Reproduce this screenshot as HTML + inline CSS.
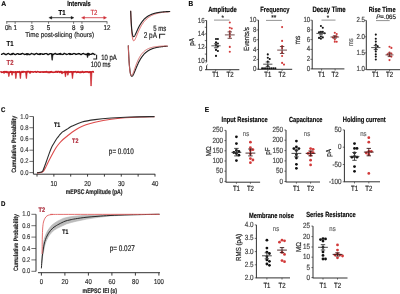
<!DOCTYPE html>
<html><head><meta charset="utf-8"><style>
html,body{margin:0;padding:0;background:#fff;width:400px;height:294px;overflow:hidden}
svg{display:block;filter:blur(0.5px)}
text{font-family:"Liberation Sans", sans-serif;text-rendering:geometricPrecision;}
</style></head><body>
<svg width="400" height="294" viewBox="0 0 400 294" font-family='"Liberation Sans", sans-serif'>
<rect width="400" height="294" fill="#fff"/>
<text font-size="6.8" font-weight="bold" transform="matrix(1.0 0 0 1.0 1.30 6.40)" stroke="#1a1a1a" stroke-width="0.14" >A</text>
<text font-size="5.71" font-weight="bold" transform="matrix(1.0 0 0 1.3 67.25 5.70)" stroke="#1a1a1a" stroke-width="0.14" >Intervals</text>
<text font-size="6.4" font-weight="bold" textLength="7.00" lengthAdjust="spacingAndGlyphs" transform="matrix(1.0 0 0 1.12 58.50 15.20)" stroke="#1a1a1a" stroke-width="0.14" >T1</text>
<text font-size="6.6" fill="#cf2f38" textLength="7.00" lengthAdjust="spacingAndGlyphs" transform="matrix(1.0 0 0 1.12 90.40 15.00)" stroke="#cf2f38" stroke-width="0.16" >T2</text>
<line x1="50.30" y1="17.70" x2="72.50" y2="17.70" stroke="#1a1a1a" stroke-width="0.8" />
<path d="M48.80,17.70 L51.80,16.20 L51.80,19.20 Z" stroke="#1a1a1a" stroke-width="0.3" fill="#1a1a1a" />
<path d="M74.00,17.70 L71.00,16.20 L71.00,19.20 Z" stroke="#1a1a1a" stroke-width="0.3" fill="#1a1a1a" />
<line x1="83.00" y1="17.70" x2="105.20" y2="17.70" stroke="#cf2f38" stroke-width="0.8" />
<path d="M81.50,17.70 L84.50,16.20 L84.50,19.20 Z" stroke="#cf2f38" stroke-width="0.3" fill="#cf2f38" />
<path d="M106.70,17.70 L103.70,16.20 L103.70,19.20 Z" stroke="#cf2f38" stroke-width="0.3" fill="#cf2f38" />
<line x1="6.20" y1="21.70" x2="107.30" y2="21.70" stroke="#444" stroke-width="0.85" />
<line x1="6.80" y1="21.70" x2="6.80" y2="23.80" stroke="#444" stroke-width="0.75" />
<line x1="15.15" y1="21.70" x2="15.15" y2="23.80" stroke="#444" stroke-width="0.75" />
<line x1="31.85" y1="21.70" x2="31.85" y2="23.80" stroke="#444" stroke-width="0.75" />
<line x1="48.55" y1="21.70" x2="48.55" y2="23.80" stroke="#444" stroke-width="0.75" />
<line x1="73.60" y1="21.70" x2="73.60" y2="23.80" stroke="#444" stroke-width="0.75" />
<line x1="81.95" y1="21.70" x2="81.95" y2="23.80" stroke="#444" stroke-width="0.75" />
<line x1="107.00" y1="21.70" x2="107.00" y2="23.80" stroke="#444" stroke-width="0.75" />
<text font-size="6.2" text-anchor="middle" fill="#222" transform="matrix(1.0 0 0 1.15 15.15 30.40)" stroke="#222" stroke-width="0.16" >1</text>
<text font-size="6.2" text-anchor="middle" fill="#222" transform="matrix(1.0 0 0 1.15 31.85 30.40)" stroke="#222" stroke-width="0.16" >3</text>
<text font-size="6.2" text-anchor="middle" fill="#222" transform="matrix(1.0 0 0 1.15 48.55 30.40)" stroke="#222" stroke-width="0.16" >5</text>
<text font-size="6.2" text-anchor="middle" fill="#222" transform="matrix(1.0 0 0 1.15 73.60 30.40)" stroke="#222" stroke-width="0.16" >8</text>
<text font-size="6.2" text-anchor="middle" fill="#222" transform="matrix(1.0 0 0 1.15 81.95 30.40)" stroke="#222" stroke-width="0.16" >9</text>
<text font-size="6.2" text-anchor="middle" fill="#222" transform="matrix(1.0 0 0 1.15 107.00 30.40)" stroke="#222" stroke-width="0.16" >12</text>
<text font-size="6.2" fill="#222" transform="matrix(1.0 0 0 1.15 4.90 30.40)" stroke="#222" stroke-width="0.16" >0h</text>
<text font-size="6.32" fill="#222" transform="matrix(1.0 0 0 1.12 25.25 36.90)" stroke="#222" stroke-width="0.16" >Time post-slicing (hours)</text>
<text font-size="6.5" font-weight="bold" textLength="7.00" lengthAdjust="spacingAndGlyphs" transform="matrix(1.0 0 0 1.12 6.50 46.40)" stroke="#1a1a1a" stroke-width="0.14" >T1</text>
<text font-size="6.5" font-weight="bold" fill="#b8303c" textLength="7.00" lengthAdjust="spacingAndGlyphs" transform="matrix(1.0 0 0 1.12 6.50 64.80)" stroke="#b8303c" stroke-width="0.14" >T2</text>
<path d="M1.00,54.31 L1.50,54.43 L2.00,54.14 L2.50,53.96 L3.00,53.72 L3.50,53.33 L4.00,53.39 L4.50,54.05 L5.00,54.06 L5.50,54.26 L6.00,54.69 L6.50,54.29 L7.00,54.20 L7.50,53.73 L8.00,53.64 L8.50,53.41 L9.00,53.84 L9.50,54.24 L10.00,54.34 L10.50,54.57 L11.00,54.47 L11.50,53.93 L12.00,53.98 L12.50,53.67 L13.00,53.45 L13.50,53.44 L14.00,54.12 L14.50,54.22 L15.00,54.53 L15.50,54.62 L16.00,54.36 L16.50,54.18 L17.00,53.65 L17.50,53.71 L18.00,53.58 L18.50,54.04 L19.00,54.31 L19.50,54.16 L20.00,54.27 L20.50,54.20 L21.00,54.32 L21.50,53.77 L22.00,53.66 L22.50,53.46 L23.00,53.72 L23.50,53.94 L24.00,54.20 L24.50,54.48 L25.00,54.45 L25.50,54.41 L26.00,54.00 L26.50,53.87 L27.00,53.73 L27.50,53.88 L28.00,53.97 L28.50,54.01 L29.00,54.57 L29.50,54.68 L30.00,54.50 L30.50,54.06 L31.00,53.85 L31.50,53.43 L32.00,53.75 L32.50,53.81 L33.00,53.95 L33.50,54.11 L34.00,54.62 L34.50,54.62 L35.00,53.94 L35.50,54.00 L36.00,53.58 L36.50,53.38 L37.00,53.57 L37.50,54.07 L38.00,54.42 L38.50,54.19 L39.00,54.49 L39.50,54.03 L40.00,54.08 L40.50,53.61 L41.00,53.75 L41.50,53.85 L42.00,53.83 L42.50,54.37 L43.00,54.27 L43.50,54.24 L44.00,54.39 L44.50,53.86 L45.00,53.65 L45.50,53.55 L46.00,53.62 L46.50,53.55 L47.00,53.77 L47.50,54.46 L48.00,54.34 L48.50,54.64 L49.00,54.40 L49.50,53.85 L50.00,53.64 L50.50,53.56 L51.00,53.71 L51.50,53.93 L52.00,54.21 L52.50,54.45 L53.00,54.66 L53.50,54.31 L54.00,54.00 L54.50,53.86 L55.00,53.44 L55.50,53.48 L56.00,54.01 L56.50,54.07 L57.00,54.35 L57.50,54.20 L58.00,54.34 L58.50,54.19 L59.00,53.61 L59.50,53.68 L60.00,53.62 L60.50,53.46 L61.00,54.00 L61.50,54.21 L62.00,54.51 L62.50,54.36 L63.00,54.36 L63.50,54.09 L64.00,53.46 L64.50,53.34 L65.00,53.69 L65.50,54.06 L66.00,53.99 L66.50,54.34 L67.00,54.50 L67.50,54.25 L68.00,54.02 L68.50,53.70 L69.00,53.53 L69.50,53.61 L70.00,53.62 L70.50,53.94 L71.00,54.42 L71.50,54.20 L72.00,54.44 L72.50,54.32 L73.00,53.82 L73.50,53.52 L74.00,53.70 L74.50,53.51 L75.00,53.72 L75.50,54.14 L76.00,54.49 L76.50,54.24 L77.00,54.21 L77.50,53.95 L78.00,53.91 L78.50,53.54 L79.00,53.76 L79.50,53.61 L80.00,53.98 L80.50,54.40 L81.00,54.64 L81.50,54.35 L82.00,54.01 L82.50,53.66 L83.00,53.64 L83.50,53.40 L84.00,53.83 L84.50,54.11 L85.00,54.07 L85.50,54.31 L86.00,54.58 L86.50,54.33 L87.00,54.12 L87.50,53.62 L88.00,53.37 L88.50,53.50 L89.00,53.97 L89.50,54.00 L90.00,54.29 L90.50,54.41 L91.00,54.30 L91.50,54.04 L92.00,54.01 L92.50,53.42 L93.00,53.31 L93.50,53.94 L94.00,54.19 L94.50,54.52 L95.00,54.40 L95.50,54.63" stroke="#111" stroke-width="1.35" fill="none" stroke-linejoin="round"/>
<path d="M51.30,54.00 L51.95,60.20 L52.35,60.20 L53.10,54.00 Z" stroke="#111" stroke-width="0.6" fill="#111" stroke-linejoin="round"/>
<path d="M86.70,54.00 L87.35,57.50 L87.75,57.50 L88.50,54.00 Z" stroke="#111" stroke-width="0.6" fill="#111" stroke-linejoin="round"/>
<path d="M26.20,54.00 L26.85,55.20 L27.25,55.20 L28.00,54.00 Z" stroke="#111" stroke-width="0.6" fill="#111" stroke-linejoin="round"/>
<path d="M39.20,54.00 L39.85,55.00 L40.25,55.00 L41.00,54.00 Z" stroke="#111" stroke-width="0.6" fill="#111" stroke-linejoin="round"/>
<path d="M69.20,54.00 L69.85,55.00 L70.25,55.00 L71.00,54.00 Z" stroke="#111" stroke-width="0.6" fill="#111" stroke-linejoin="round"/>
<path d="M88.20,54.00 L88.85,55.50 L89.25,55.50 L90.00,54.00 Z" stroke="#111" stroke-width="0.6" fill="#111" stroke-linejoin="round"/>
<path d="M11.20,54.00 L11.85,54.80 L12.25,54.80 L13.00,54.00 Z" stroke="#111" stroke-width="0.6" fill="#111" stroke-linejoin="round"/>
<path d="M59.20,54.00 L59.85,54.80 L60.25,54.80 L61.00,54.00 Z" stroke="#111" stroke-width="0.6" fill="#111" stroke-linejoin="round"/>
<path d="M0.50,72.43 L1.00,71.72 L1.50,72.25 L2.00,72.34 L2.50,72.16 L3.00,72.02 L3.50,71.79 L4.00,71.84 L4.50,71.73 L5.00,71.57 L5.50,72.09 L6.00,71.79 L6.50,72.31 L7.00,71.55 L7.50,72.40 L8.00,72.19 L8.50,72.42 L9.00,72.40 L9.50,72.40 L10.00,72.08 L10.50,71.51 L11.00,72.25 L11.50,71.67 L12.00,71.80 L12.50,72.16 L13.00,72.02 L13.50,71.91 L14.00,72.44 L14.50,72.11 L15.00,71.84 L15.50,71.75 L16.00,72.36 L16.50,71.98 L17.00,72.28 L17.50,71.85 L18.00,71.70 L18.50,72.03 L19.00,72.32 L19.50,71.67 L20.00,72.29 L20.50,72.42 L21.00,72.31 L21.50,72.32 L22.00,71.51 L22.50,72.13 L23.00,72.36 L23.50,71.55 L24.00,71.77 L24.50,71.77 L25.00,72.03 L25.50,71.92 L26.00,71.97 L26.50,72.28 L27.00,71.50 L27.50,71.55 L28.00,71.63 L28.50,71.62 L29.00,71.57 L29.50,72.47 L30.00,72.35 L30.50,71.59 L31.00,72.00 L31.50,71.82 L32.00,71.81 L32.50,71.85 L33.00,72.15 L33.50,72.09 L34.00,71.86 L34.50,71.69 L35.00,71.83 L35.50,71.62 L36.00,72.06 L36.50,72.22 L37.00,71.88 L37.50,71.58 L38.00,71.68 L38.50,71.87 L39.00,72.10 L39.50,72.28 L40.00,71.88 L40.50,72.30 L41.00,72.12 L41.50,71.93 L42.00,71.87 L42.50,72.00 L43.00,72.20 L43.50,71.92 L44.00,72.19 L44.50,71.96 L45.00,71.75 L45.50,72.04 L46.00,72.20 L46.50,71.57 L47.00,71.92 L47.50,71.93 L48.00,72.38 L48.50,72.44 L49.00,71.87 L49.50,72.40 L50.00,72.29 L50.50,71.76 L51.00,71.96 L51.50,71.62 L52.00,72.31 L52.50,72.16 L53.00,72.39 L53.50,72.29 L54.00,72.17 L54.50,72.23 L55.00,72.06 L55.50,71.60 L56.00,72.09 L56.50,71.50 L57.00,71.64 L57.50,72.27 L58.00,71.54 L58.50,71.59 L59.00,71.60 L59.50,72.38 L60.00,71.68 L60.50,71.52 L61.00,72.34 L61.50,71.62 L62.00,72.34 L62.50,72.17 L63.00,72.34 L63.50,72.45 L64.00,72.08 L64.50,72.30 L65.00,71.54 L65.50,72.27 L66.00,72.01 L66.50,72.22 L67.00,71.61 L67.50,72.25 L68.00,72.43 L68.50,71.56 L69.00,71.82 L69.50,72.06 L70.00,72.33 L70.50,71.74 L71.00,71.68 L71.50,71.75 L72.00,72.12 L72.50,72.25 L73.00,71.89 L73.50,71.87 L74.00,71.90 L74.50,71.85 L75.00,71.92 L75.50,71.58 L76.00,72.00 L76.50,72.47 L77.00,71.91 L77.50,72.25 L78.00,71.66 L78.50,72.19 L79.00,72.26 L79.50,72.17 L80.00,72.02 L80.50,71.98 L81.00,72.14 L81.50,72.40 L82.00,71.65 L82.50,71.60 L83.00,72.25 L83.50,72.42 L84.00,72.02 L84.50,71.94 L85.00,72.22 L85.50,71.69 L86.00,71.77 L86.50,71.70 L87.00,72.09 L87.50,71.81 L88.00,71.73 L88.50,72.19 L89.00,72.45 L89.50,71.80 L90.00,72.21 L90.50,71.91 L91.00,72.35 L91.50,72.08 L92.00,71.77 L92.50,71.72 L93.00,71.52 L93.50,71.98 L94.00,71.88" stroke="#cc2229" stroke-width="1.6" fill="none" stroke-linejoin="round"/>
<path d="M8.00,72.00 L8.65,76.50 L9.05,76.50 L9.80,72.00 Z" stroke="#cc2229" stroke-width="0.6" fill="#cc2229" stroke-linejoin="round"/>
<path d="M15.00,72.00 L15.65,78.50 L16.05,78.50 L16.80,72.00 Z" stroke="#cc2229" stroke-width="0.6" fill="#cc2229" stroke-linejoin="round"/>
<path d="M19.50,72.00 L20.15,78.50 L20.55,78.50 L21.30,72.00 Z" stroke="#cc2229" stroke-width="0.6" fill="#cc2229" stroke-linejoin="round"/>
<path d="M25.50,72.00 L26.15,78.50 L26.55,78.50 L27.30,72.00 Z" stroke="#cc2229" stroke-width="0.6" fill="#cc2229" stroke-linejoin="round"/>
<path d="M11.20,72.00 L11.85,75.20 L12.25,75.20 L13.00,72.00 Z" stroke="#cc2229" stroke-width="0.6" fill="#cc2229" stroke-linejoin="round"/>
<path d="M64.60,72.00 L65.25,76.80 L65.65,76.80 L66.40,72.00 Z" stroke="#cc2229" stroke-width="0.6" fill="#cc2229" stroke-linejoin="round"/>
<path d="M67.00,72.00 L67.65,75.20 L68.05,75.20 L68.80,72.00 Z" stroke="#cc2229" stroke-width="0.6" fill="#cc2229" stroke-linejoin="round"/>
<path d="M71.60,72.00 L72.25,78.50 L72.65,78.50 L73.40,72.00 Z" stroke="#cc2229" stroke-width="0.6" fill="#cc2229" stroke-linejoin="round"/>
<path d="M90.20,72.00 L90.85,86.00 L91.25,86.00 L92.00,72.00 Z" stroke="#cc2229" stroke-width="0.6" fill="#cc2229" stroke-linejoin="round"/>
<path d="M61.20,72.00 L61.85,74.00 L62.25,74.00 L63.00,72.00 Z" stroke="#cc2229" stroke-width="0.6" fill="#cc2229" stroke-linejoin="round"/>
<path d="M3.20,72.00 L3.85,73.50 L4.25,73.50 L5.00,72.00 Z" stroke="#cc2229" stroke-width="0.6" fill="#cc2229" stroke-linejoin="round"/>
<path d="M29.20,72.00 L29.85,73.50 L30.25,73.50 L31.00,72.00 Z" stroke="#cc2229" stroke-width="0.6" fill="#cc2229" stroke-linejoin="round"/>
<path d="M49.20,72.00 L49.85,73.00 L50.25,73.00 L51.00,72.00 Z" stroke="#cc2229" stroke-width="0.6" fill="#cc2229" stroke-linejoin="round"/>
<path d="M79.20,72.00 L79.85,73.20 L80.25,73.20 L81.00,72.00 Z" stroke="#cc2229" stroke-width="0.6" fill="#cc2229" stroke-linejoin="round"/>
<path d="M93.2,59.0 L96.6,59.0 L96.6,54.8" stroke="#222" stroke-width="1.1" fill="none" />
<text font-size="5.93" fill="#222" transform="matrix(1.0 0 0 1.3 101.25 59.60)" stroke="#222" stroke-width="0.16" >10 pA</text>
<text font-size="6.07" fill="#222" transform="matrix(1.0 0 0 1.3 90.65 67.40)" stroke="#222" stroke-width="0.16" >100 ms</text>
<path d="M130.70,11.20 L130.95,17.86 L131.20,23.27 L131.45,27.63 L131.70,31.12 L131.95,33.88 L132.20,36.03 L132.45,37.67 L132.70,38.88 L132.95,39.75 L133.20,40.32 L133.45,40.66 L133.70,40.79 L133.95,40.77 L134.20,40.61 L134.45,40.34 L134.70,39.99 L134.95,39.57 L135.20,39.09 L135.45,38.57 L135.70,38.02 L135.95,37.44 L136.20,36.85 L136.45,36.25 L136.70,35.64 L136.95,35.03 L137.20,34.42 L137.45,33.82 L137.70,33.22 L137.95,32.63 L138.20,32.04 L138.45,31.47 L138.70,30.91 L138.95,30.35 L139.20,29.82 L139.45,29.29 L139.70,28.77 L139.95,28.27 L140.20,27.78 L140.45,27.31 L140.70,26.84 L140.95,26.39 L141.20,25.95 L141.45,25.52 L141.70,25.11 L141.95,24.70 L142.20,24.31 L142.45,23.93 L142.70,23.56 L142.95,23.20 L143.20,22.84 L143.45,22.50 L143.70,22.17 L143.95,21.85 L144.20,21.54 L144.45,21.24 L144.70,20.95 L144.95,20.66 L145.20,20.38 L145.45,20.11 L145.70,19.85 L145.95,19.60 L146.20,19.35 L146.45,19.11 L146.70,18.88 L146.95,18.66 L147.20,18.44 L147.45,18.23 L147.70,18.02 L147.95,17.82 L148.20,17.63 L148.45,17.44 L148.70,17.25 L148.95,17.08 L149.20,16.91 L149.45,16.74 L149.70,16.58 L149.95,16.42 L150.20,16.26 L150.45,16.12 L150.70,15.97 L150.95,15.83 L151.20,15.70 L151.45,15.56 L151.70,15.44 L151.95,15.31 L152.20,15.19 L152.45,15.07 L152.70,14.96 L152.95,14.85 L153.20,14.74 L153.45,14.64 L153.70,14.54 L153.95,14.44 L154.20,14.35 L154.45,14.25 L154.70,14.16 L154.95,14.08 L155.20,13.99 L155.45,13.91 L155.70,13.83 L155.95,13.75 L156.20,13.68 L156.45,13.61 L156.70,13.54 L156.95,13.47 L157.20,13.40 L157.45,13.34 L157.70,13.27 L157.95,13.21 L158.20,13.15 L158.45,13.10 L158.70,13.04 L158.95,12.99 L159.20,12.93 L159.45,12.88 L159.70,12.83 L159.95,12.79 L160.20,12.74 L160.45,12.69 L160.70,12.65 L160.95,12.61 L161.20,12.57 L161.45,12.53 L161.70,12.49 L161.95,12.45 L162.20,12.41 L162.45,12.38 L162.70,12.34 L162.95,12.31 L163.20,12.28 L163.45,12.25 L163.70,12.22 L163.95,12.19 L164.20,12.16 L164.45,12.13 L164.70,12.10 L164.95,12.07 L165.20,12.05 L165.45,12.02 L165.70,12.00 L165.95,11.98 L166.20,11.95 L166.45,11.93 L166.70,11.91 L166.95,11.89 L167.20,11.87 L167.45,11.85 L167.70,11.83 L167.95,11.81 L168.20,11.79 L168.45,11.78 L168.70,11.76 L168.95,11.74 L169.20,11.73 L169.45,11.71 L169.70,11.70" stroke="#e05a5a" stroke-width="1.0" fill="none" stroke-linejoin="round" stroke-linecap="round"/>
<path d="M130.70,11.20 L130.95,17.17 L131.20,21.98 L131.45,25.82 L131.70,28.85 L131.95,31.22 L132.20,33.04 L132.45,34.39 L132.70,35.37 L132.95,36.04 L133.20,36.45 L133.45,36.66 L133.70,36.69 L133.95,36.59 L134.20,36.38 L134.45,36.07 L134.70,35.70 L134.95,35.27 L135.20,34.80 L135.45,34.29 L135.70,33.76 L135.95,33.22 L136.20,32.67 L136.45,32.11 L136.70,31.55 L136.95,30.99 L137.20,30.43 L137.45,29.88 L137.70,29.34 L137.95,28.81 L138.20,28.29 L138.45,27.78 L138.70,27.28 L138.95,26.79 L139.20,26.31 L139.45,25.85 L139.70,25.40 L139.95,24.96 L140.20,24.54 L140.45,24.12 L140.70,23.72 L140.95,23.33 L141.20,22.95 L141.45,22.58 L141.70,22.23 L141.95,21.88 L142.20,21.55 L142.45,21.22 L142.70,20.91 L142.95,20.60 L143.20,20.31 L143.45,20.02 L143.70,19.74 L143.95,19.47 L144.20,19.21 L144.45,18.96 L144.70,18.72 L144.95,18.48 L145.20,18.25 L145.45,18.03 L145.70,17.81 L145.95,17.60 L146.20,17.40 L146.45,17.21 L146.70,17.02 L146.95,16.83 L147.20,16.66 L147.45,16.48 L147.70,16.32 L147.95,16.16 L148.20,16.00 L148.45,15.85 L148.70,15.70 L148.95,15.56 L149.20,15.42 L149.45,15.29 L149.70,15.16 L149.95,15.04 L150.20,14.91 L150.45,14.80 L150.70,14.68 L150.95,14.57 L151.20,14.47 L151.45,14.36 L151.70,14.26 L151.95,14.17 L152.20,14.07 L152.45,13.98 L152.70,13.90 L152.95,13.81 L153.20,13.73 L153.45,13.65 L153.70,13.57 L153.95,13.50 L154.20,13.42 L154.45,13.35 L154.70,13.29 L154.95,13.22 L155.20,13.16 L155.45,13.09 L155.70,13.04 L155.95,12.98 L156.20,12.92 L156.45,12.87 L156.70,12.81 L156.95,12.76 L157.20,12.71 L157.45,12.67 L157.70,12.62 L157.95,12.58 L158.20,12.53 L158.45,12.49 L158.70,12.45 L158.95,12.41 L159.20,12.37 L159.45,12.33 L159.70,12.30 L159.95,12.26 L160.20,12.23 L160.45,12.20 L160.70,12.17 L160.95,12.14 L161.20,12.11 L161.45,12.08 L161.70,12.05 L161.95,12.02 L162.20,12.00 L162.45,11.97 L162.70,11.95 L162.95,11.92 L163.20,11.90 L163.45,11.88 L163.70,11.86 L163.95,11.84 L164.20,11.82 L164.45,11.80 L164.70,11.78 L164.95,11.76 L165.20,11.74 L165.45,11.73 L165.70,11.71 L165.95,11.69 L166.20,11.68 L166.45,11.66 L166.70,11.65 L166.95,11.63 L167.20,11.62 L167.45,11.61 L167.70,11.59 L167.95,11.58 L168.20,11.57 L168.45,11.56 L168.70,11.55 L168.95,11.54 L169.20,11.53 L169.45,11.51 L169.70,11.50" stroke="#222" stroke-width="1.15" fill="none" stroke-linejoin="round" stroke-linecap="round"/>
<path d="M128.30,45.80 L128.55,51.63 L128.80,56.56 L129.05,60.70 L129.30,64.16 L129.55,67.02 L129.80,69.37 L130.05,71.28 L130.30,72.79 L130.55,73.98 L130.80,74.87 L131.05,75.52 L131.30,75.95 L131.55,76.20 L131.80,76.30 L132.05,76.26 L132.30,76.11 L132.55,75.86 L132.80,75.54 L133.05,75.15 L133.30,74.70 L133.55,74.21 L133.80,73.68 L134.05,73.12 L134.30,72.54 L134.55,71.95 L134.80,71.34 L135.05,70.72 L135.30,70.10 L135.55,69.48 L135.80,68.87 L136.05,68.25 L136.30,67.64 L136.55,67.04 L136.80,66.44 L137.05,65.86 L137.30,65.29 L137.55,64.72 L137.80,64.17 L138.05,63.63 L138.30,63.10 L138.55,62.59 L138.80,62.08 L139.05,61.59 L139.30,61.11 L139.55,60.65 L139.80,60.20 L140.05,59.76 L140.30,59.33 L140.55,58.91 L140.80,58.51 L141.05,58.11 L141.30,57.73 L141.55,57.36 L141.80,57.00 L142.05,56.66 L142.30,56.32 L142.55,55.99 L142.80,55.67 L143.05,55.36 L143.30,55.06 L143.55,54.77 L143.80,54.49 L144.05,54.22 L144.30,53.96 L144.55,53.70 L144.80,53.45 L145.05,53.21 L145.30,52.98 L145.55,52.75 L145.80,52.53 L146.05,52.32 L146.30,52.12 L146.55,51.92 L146.80,51.73 L147.05,51.54 L147.30,51.36 L147.55,51.18 L147.80,51.01 L148.05,50.85 L148.30,50.69 L148.55,50.54 L148.80,50.39 L149.05,50.24 L149.30,50.10 L149.55,49.97 L149.80,49.84 L150.05,49.71 L150.30,49.58 L150.55,49.47 L150.80,49.35 L151.05,49.24 L151.30,49.13 L151.55,49.02 L151.80,48.92 L152.05,48.82 L152.30,48.73 L152.55,48.64 L152.80,48.55 L153.05,48.46 L153.30,48.38 L153.55,48.30 L153.80,48.22 L154.05,48.14 L154.30,48.07 L154.55,48.00 L154.80,47.93 L155.05,47.86 L155.30,47.79 L155.55,47.73 L155.80,47.67 L156.05,47.61 L156.30,47.55 L156.55,47.50 L156.80,47.45 L157.05,47.39 L157.30,47.34 L157.55,47.29 L157.80,47.25 L158.05,47.20 L158.30,47.16 L158.55,47.11 L158.80,47.07 L159.05,47.03 L159.30,46.99 L159.55,46.96 L159.80,46.92 L160.05,46.88 L160.30,46.85 L160.55,46.82 L160.80,46.79 L161.05,46.75 L161.30,46.72 L161.55,46.69 L161.80,46.67 L162.05,46.64 L162.30,46.61 L162.55,46.59 L162.80,46.56 L163.05,46.54 L163.30,46.51 L163.55,46.49 L163.80,46.47 L164.05,46.45 L164.30,46.43 L164.55,46.41 L164.80,46.39 L165.05,46.37 L165.30,46.35 L165.55,46.34 L165.80,46.32 L166.05,46.30 L166.30,46.29 L166.55,46.27 L166.80,46.26 L167.05,46.24 L167.30,46.23" stroke="#222" stroke-width="1.15" fill="none" stroke-linejoin="round" stroke-linecap="round"/>
<path d="M128.30,45.80 L128.55,52.05 L128.80,57.25 L129.05,61.54 L129.30,65.04 L129.55,67.88 L129.80,70.14 L130.05,71.91 L130.30,73.26 L130.55,74.25 L130.80,74.93 L131.05,75.36 L131.30,75.57 L131.55,75.59 L131.80,75.46 L132.05,75.20 L132.30,74.83 L132.55,74.38 L132.80,73.86 L133.05,73.28 L133.30,72.66 L133.55,72.00 L133.80,71.32 L134.05,70.62 L134.30,69.91 L134.55,69.20 L134.80,68.48 L135.05,67.77 L135.30,67.06 L135.55,66.36 L135.80,65.67 L136.05,65.00 L136.30,64.33 L136.55,63.69 L136.80,63.05 L137.05,62.44 L137.30,61.84 L137.55,61.26 L137.80,60.69 L138.05,60.14 L138.30,59.61 L138.55,59.10 L138.80,58.60 L139.05,58.12 L139.30,57.66 L139.55,57.21 L139.80,56.78 L140.05,56.36 L140.30,55.96 L140.55,55.58 L140.80,55.20 L141.05,54.84 L141.30,54.50 L141.55,54.16 L141.80,53.84 L142.05,53.53 L142.30,53.23 L142.55,52.95 L142.80,52.67 L143.05,52.41 L143.30,52.15 L143.55,51.90 L143.80,51.67 L144.05,51.44 L144.30,51.22 L144.55,51.01 L144.80,50.81 L145.05,50.62 L145.30,50.43 L145.55,50.25 L145.80,50.08 L146.05,49.91 L146.30,49.75 L146.55,49.60 L146.80,49.45 L147.05,49.31 L147.30,49.17 L147.55,49.04 L147.80,48.92 L148.05,48.79 L148.30,48.68 L148.55,48.57 L148.80,48.46 L149.05,48.36 L149.30,48.26 L149.55,48.16 L149.80,48.07 L150.05,47.98 L150.30,47.90 L150.55,47.81 L150.80,47.74 L151.05,47.66 L151.30,47.59 L151.55,47.52 L151.80,47.45 L152.05,47.39 L152.30,47.33 L152.55,47.27 L152.80,47.21 L153.05,47.15 L153.30,47.10 L153.55,47.05 L153.80,47.00 L154.05,46.96 L154.30,46.91 L154.55,46.87 L154.80,46.83 L155.05,46.79 L155.30,46.75 L155.55,46.71 L155.80,46.68 L156.05,46.64 L156.30,46.61 L156.55,46.58 L156.80,46.55 L157.05,46.52 L157.30,46.49 L157.55,46.46 L157.80,46.44 L158.05,46.41 L158.30,46.39 L158.55,46.37 L158.80,46.34 L159.05,46.32 L159.30,46.30 L159.55,46.28 L159.80,46.26 L160.05,46.25 L160.30,46.23 L160.55,46.21 L160.80,46.20 L161.05,46.18 L161.30,46.17 L161.55,46.15 L161.80,46.14 L162.05,46.12 L162.30,46.11 L162.55,46.10 L162.80,46.09 L163.05,46.08 L163.30,46.07 L163.55,46.06 L163.80,46.05 L164.05,46.04 L164.30,46.03 L164.55,46.02 L164.80,46.01 L165.05,46.00 L165.30,45.99 L165.55,45.99 L165.80,45.98 L166.05,45.97 L166.30,45.97 L166.55,45.96 L166.80,45.95 L167.05,45.95 L167.30,45.94" stroke="#d06060" stroke-width="0.95" fill="none" stroke-linejoin="round" stroke-linecap="round"/>
<text font-size="6.0" fill="#222" transform="matrix(1.0 0 0 1.3 153.25 31.30)" stroke="#222" stroke-width="0.16" >5 ms</text>
<text font-size="6.42" fill="#222" transform="matrix(1.0 0 0 1.3 143.75 38.20)" stroke="#222" stroke-width="0.16" >2 pA</text>
<path d="M165.2,34.2 L159.6,34.2 L159.6,38.6" stroke="#222" stroke-width="1.1" fill="none" />
<text font-size="6.5" font-weight="bold" transform="matrix(1.0 0 0 1.12 188.60 6.30)" stroke="#1a1a1a" stroke-width="0.14" >B</text>
<text font-size="5.85" font-weight="bold" transform="matrix(1.0 0 0 1.3 208.15 11.60)" stroke="#1a1a1a" stroke-width="0.14" >Amplitude</text>
<line x1="206.60" y1="20.40" x2="206.60" y2="61.80" stroke="#262626" stroke-width="0.95" />
<line x1="206.60" y1="65.80" x2="206.60" y2="69.70" stroke="#262626" stroke-width="0.95" />
<path d="M205.6,62.8 Q206.6,62.6 206.6,61.6" stroke="#333" stroke-width="0.7" fill="none" />
<path d="M206.6,65.9 Q206.6,64.9 207.6,64.6" stroke="#333" stroke-width="0.7" fill="none" />
<line x1="204.80" y1="20.50" x2="206.60" y2="20.50" stroke="#333" stroke-width="0.7" />
<text font-size="6.1" text-anchor="end" fill="#444" transform="matrix(1.0 0 0 1.2 204.60 22.55)" stroke="#444" stroke-width="0.16" >16</text>
<line x1="204.80" y1="27.30" x2="206.60" y2="27.30" stroke="#333" stroke-width="0.7" />
<line x1="204.80" y1="33.90" x2="206.60" y2="33.90" stroke="#333" stroke-width="0.7" />
<text font-size="6.1" text-anchor="end" fill="#444" transform="matrix(1.0 0 0 1.2 204.60 35.95)" stroke="#444" stroke-width="0.16" >14</text>
<line x1="204.80" y1="40.60" x2="206.60" y2="40.60" stroke="#333" stroke-width="0.7" />
<line x1="204.80" y1="47.30" x2="206.60" y2="47.30" stroke="#333" stroke-width="0.7" />
<text font-size="6.1" text-anchor="end" fill="#444" transform="matrix(1.0 0 0 1.2 204.60 49.35)" stroke="#444" stroke-width="0.16" >12</text>
<line x1="204.80" y1="54.10" x2="206.60" y2="54.10" stroke="#333" stroke-width="0.7" />
<line x1="204.80" y1="60.80" x2="206.60" y2="60.80" stroke="#333" stroke-width="0.7" />
<text font-size="6.1" text-anchor="end" fill="#444" transform="matrix(1.0 0 0 1.2 204.60 62.85)" stroke="#444" stroke-width="0.16" >10</text>
<text font-size="6.1" text-anchor="end" fill="#444" transform="matrix(1.0 0 0 1.2 202.50 71.40)" stroke="#444" stroke-width="0.16" >0</text>
<line x1="205.00" y1="69.70" x2="239.30" y2="69.70" stroke="#262626" stroke-width="0.95" />
<line x1="215.70" y1="69.70" x2="215.70" y2="71.30" stroke="#333" stroke-width="0.7" />
<line x1="230.00" y1="69.70" x2="230.00" y2="71.30" stroke="#333" stroke-width="0.7" />
<text font-size="6.0" text-anchor="middle" fill="#222" transform="matrix(1.0 0 0 1.25 215.70 76.80)" stroke="#222" stroke-width="0.16" >T1</text>
<text font-size="6.0" text-anchor="middle" fill="#222" transform="matrix(1.0 0 0 1.25 230.00 76.80)" stroke="#222" stroke-width="0.16" >T2</text>
<text font-size="6.2" text-anchor="middle" fill="#222" transform="matrix(0 -1.0 1.15 0 194.30 42.00)" stroke="#222" stroke-width="0.16" >pA</text>
<line x1="214.00" y1="20.10" x2="229.50" y2="20.10" stroke="#666" stroke-width="0.7" />
<text font-size="6.2" text-anchor="middle" fill="#222" transform="matrix(1.0 0 0 1.12 222.60 19.60)" stroke="#222" stroke-width="0.16" >*</text>
<circle cx="216.00" cy="39.00" r="1.05" fill="#111"/>
<circle cx="217.89" cy="39.00" r="1.05" fill="#111"/>
<circle cx="216.00" cy="42.40" r="1.05" fill="#111"/>
<circle cx="217.89" cy="43.50" r="1.05" fill="#111"/>
<circle cx="216.00" cy="45.00" r="1.05" fill="#111"/>
<circle cx="217.89" cy="46.50" r="1.05" fill="#111"/>
<circle cx="216.00" cy="49.90" r="1.05" fill="#111"/>
<circle cx="217.89" cy="51.00" r="1.05" fill="#111"/>
<circle cx="216.00" cy="55.90" r="1.05" fill="#111"/>
<line x1="211.40" y1="45.80" x2="220.60" y2="45.80" stroke="#333" stroke-width="0.85" />
<line x1="216.00" y1="43.80" x2="216.00" y2="47.80" stroke="#333" stroke-width="0.85" />
<line x1="213.93" y1="43.80" x2="218.07" y2="43.80" stroke="#333" stroke-width="0.85" />
<line x1="213.93" y1="47.80" x2="218.07" y2="47.80" stroke="#333" stroke-width="0.85" />
<circle cx="229.80" cy="22.50" r="1.05" fill="#d23a3a"/>
<circle cx="229.80" cy="27.80" r="1.05" fill="#d23a3a"/>
<circle cx="231.69" cy="28.50" r="1.05" fill="#d23a3a"/>
<circle cx="229.80" cy="31.20" r="1.05" fill="#d23a3a"/>
<circle cx="229.80" cy="33.50" r="1.05" fill="#d23a3a"/>
<circle cx="229.80" cy="36.50" r="1.05" fill="#d23a3a"/>
<circle cx="229.80" cy="46.90" r="1.05" fill="#d23a3a"/>
<circle cx="229.80" cy="51.80" r="1.05" fill="#d23a3a"/>
<line x1="224.90" y1="34.90" x2="234.70" y2="34.90" stroke="#5a2a2a" stroke-width="0.85" />
<line x1="229.80" y1="31.90" x2="229.80" y2="38.30" stroke="#5a2a2a" stroke-width="0.85" />
<line x1="227.59" y1="31.90" x2="232.01" y2="31.90" stroke="#5a2a2a" stroke-width="0.85" />
<line x1="227.59" y1="38.30" x2="232.01" y2="38.30" stroke="#5a2a2a" stroke-width="0.85" />
<text font-size="5.77" font-weight="bold" transform="matrix(1.0 0 0 1.3 260.35 11.60)" stroke="#1a1a1a" stroke-width="0.14" >Frequency</text>
<line x1="258.40" y1="20.10" x2="258.40" y2="69.20" stroke="#262626" stroke-width="0.95" />
<line x1="256.60" y1="20.10" x2="258.40" y2="20.10" stroke="#333" stroke-width="0.7" />
<text font-size="6.1" text-anchor="end" fill="#444" transform="matrix(1.0 0 0 1.2 256.40 22.15)" stroke="#444" stroke-width="0.16" >10</text>
<line x1="256.60" y1="29.90" x2="258.40" y2="29.90" stroke="#333" stroke-width="0.7" />
<text font-size="6.1" text-anchor="end" fill="#444" transform="matrix(1.0 0 0 1.2 256.40 31.95)" stroke="#444" stroke-width="0.16" >8</text>
<line x1="256.60" y1="39.70" x2="258.40" y2="39.70" stroke="#333" stroke-width="0.7" />
<text font-size="6.1" text-anchor="end" fill="#444" transform="matrix(1.0 0 0 1.2 256.40 41.75)" stroke="#444" stroke-width="0.16" >6</text>
<line x1="256.60" y1="49.50" x2="258.40" y2="49.50" stroke="#333" stroke-width="0.7" />
<text font-size="6.1" text-anchor="end" fill="#444" transform="matrix(1.0 0 0 1.2 256.40 51.55)" stroke="#444" stroke-width="0.16" >4</text>
<line x1="256.60" y1="59.40" x2="258.40" y2="59.40" stroke="#333" stroke-width="0.7" />
<text font-size="6.1" text-anchor="end" fill="#444" transform="matrix(1.0 0 0 1.2 256.40 61.45)" stroke="#444" stroke-width="0.16" >2</text>
<line x1="256.60" y1="69.20" x2="258.40" y2="69.20" stroke="#333" stroke-width="0.7" />
<text font-size="6.1" text-anchor="end" fill="#444" transform="matrix(1.0 0 0 1.2 256.40 71.25)" stroke="#444" stroke-width="0.16" >0</text>
<line x1="257.90" y1="69.30" x2="292.20" y2="69.30" stroke="#262626" stroke-width="0.95" />
<line x1="267.80" y1="69.30" x2="267.80" y2="70.90" stroke="#333" stroke-width="0.7" />
<line x1="282.10" y1="69.30" x2="282.10" y2="70.90" stroke="#333" stroke-width="0.7" />
<text font-size="6.0" text-anchor="middle" fill="#222" transform="matrix(1.0 0 0 1.25 267.80 76.80)" stroke="#222" stroke-width="0.16" >T1</text>
<text font-size="6.0" text-anchor="middle" fill="#222" transform="matrix(1.0 0 0 1.25 282.10 76.80)" stroke="#222" stroke-width="0.16" >T2</text>
<text font-size="6.3" text-anchor="middle" fill="#222" textLength="24.00" lengthAdjust="spacingAndGlyphs" transform="matrix(0 -1.0 1.18 0 248.80 39.00)" stroke="#222" stroke-width="0.16" >Events/s</text>
<line x1="266.00" y1="20.40" x2="282.00" y2="20.40" stroke="#666" stroke-width="0.7" />
<text font-size="6.5" text-anchor="middle" fill="#222" transform="matrix(1.0 0 0 1.12 273.70 20.00)" stroke="#222" stroke-width="0.16" >**</text>
<circle cx="267.80" cy="54.40" r="1.05" fill="#111"/>
<circle cx="267.80" cy="57.80" r="1.05" fill="#111"/>
<circle cx="269.69" cy="59.00" r="1.05" fill="#111"/>
<circle cx="267.80" cy="61.60" r="1.05" fill="#111"/>
<circle cx="267.80" cy="66.00" r="1.05" fill="#111"/>
<circle cx="267.80" cy="68.30" r="1.05" fill="#111"/>
<circle cx="269.69" cy="68.30" r="1.05" fill="#111"/>
<circle cx="265.91" cy="68.30" r="1.05" fill="#111"/>
<circle cx="271.58" cy="68.30" r="1.05" fill="#111"/>
<circle cx="264.02" cy="68.30" r="1.05" fill="#111"/>
<circle cx="273.47" cy="68.30" r="1.05" fill="#111"/>
<circle cx="262.13" cy="68.30" r="1.05" fill="#111"/>
<circle cx="275.36" cy="68.30" r="1.05" fill="#111"/>
<line x1="263.20" y1="64.20" x2="272.40" y2="64.20" stroke="#333" stroke-width="0.85" />
<line x1="267.80" y1="62.00" x2="267.80" y2="66.40" stroke="#333" stroke-width="0.85" />
<line x1="265.73" y1="62.00" x2="269.87" y2="62.00" stroke="#333" stroke-width="0.85" />
<line x1="265.73" y1="66.40" x2="269.87" y2="66.40" stroke="#333" stroke-width="0.85" />
<circle cx="282.10" cy="27.10" r="1.05" fill="#d23a3a"/>
<circle cx="282.10" cy="40.90" r="1.05" fill="#d23a3a"/>
<circle cx="282.10" cy="46.00" r="1.05" fill="#d23a3a"/>
<circle cx="282.10" cy="48.00" r="1.05" fill="#d23a3a"/>
<circle cx="282.10" cy="52.30" r="1.05" fill="#d23a3a"/>
<circle cx="282.10" cy="56.00" r="1.05" fill="#d23a3a"/>
<circle cx="282.10" cy="62.90" r="1.05" fill="#d23a3a"/>
<circle cx="283.99" cy="64.60" r="1.05" fill="#d23a3a"/>
<line x1="277.20" y1="50.10" x2="287.00" y2="50.10" stroke="#5a2a2a" stroke-width="0.85" />
<line x1="282.10" y1="46.50" x2="282.10" y2="53.50" stroke="#5a2a2a" stroke-width="0.85" />
<line x1="279.90" y1="46.50" x2="284.31" y2="46.50" stroke="#5a2a2a" stroke-width="0.85" />
<line x1="279.90" y1="53.50" x2="284.31" y2="53.50" stroke="#5a2a2a" stroke-width="0.85" />
<text font-size="6.01" font-weight="bold" transform="matrix(1.0 0 0 1.3 312.45 11.90)" stroke="#1a1a1a" stroke-width="0.14" >Decay Time</text>
<line x1="312.20" y1="20.20" x2="312.20" y2="68.90" stroke="#262626" stroke-width="0.95" />
<line x1="310.40" y1="20.20" x2="312.20" y2="20.20" stroke="#333" stroke-width="0.7" />
<text font-size="6.1" text-anchor="end" fill="#444" transform="matrix(1.0 0 0 1.2 310.20 22.25)" stroke="#444" stroke-width="0.16" >10</text>
<line x1="310.40" y1="29.90" x2="312.20" y2="29.90" stroke="#333" stroke-width="0.7" />
<text font-size="6.1" text-anchor="end" fill="#444" transform="matrix(1.0 0 0 1.2 310.20 31.95)" stroke="#444" stroke-width="0.16" >8</text>
<line x1="310.40" y1="39.60" x2="312.20" y2="39.60" stroke="#333" stroke-width="0.7" />
<text font-size="6.1" text-anchor="end" fill="#444" transform="matrix(1.0 0 0 1.2 310.20 41.65)" stroke="#444" stroke-width="0.16" >6</text>
<line x1="310.40" y1="49.40" x2="312.20" y2="49.40" stroke="#333" stroke-width="0.7" />
<text font-size="6.1" text-anchor="end" fill="#444" transform="matrix(1.0 0 0 1.2 310.20 51.45)" stroke="#444" stroke-width="0.16" >4</text>
<line x1="310.40" y1="59.30" x2="312.20" y2="59.30" stroke="#333" stroke-width="0.7" />
<text font-size="6.1" text-anchor="end" fill="#444" transform="matrix(1.0 0 0 1.2 310.20 61.35)" stroke="#444" stroke-width="0.16" >2</text>
<line x1="310.40" y1="68.90" x2="312.20" y2="68.90" stroke="#333" stroke-width="0.7" />
<text font-size="6.1" text-anchor="end" fill="#444" transform="matrix(1.0 0 0 1.2 310.20 70.95)" stroke="#444" stroke-width="0.16" >0</text>
<line x1="311.70" y1="68.90" x2="344.40" y2="68.90" stroke="#262626" stroke-width="0.95" />
<line x1="321.60" y1="68.90" x2="321.60" y2="70.50" stroke="#333" stroke-width="0.7" />
<line x1="335.10" y1="68.90" x2="335.10" y2="70.50" stroke="#333" stroke-width="0.7" />
<text font-size="6.0" text-anchor="middle" fill="#222" transform="matrix(1.0 0 0 1.25 321.60 76.90)" stroke="#222" stroke-width="0.16" >T1</text>
<text font-size="6.0" text-anchor="middle" fill="#222" transform="matrix(1.0 0 0 1.25 335.10 76.90)" stroke="#222" stroke-width="0.16" >T2</text>
<text font-size="6.6" text-anchor="middle" fill="#222" transform="matrix(0 -1.0 1.2 0 300.10 40.00)" stroke="#222" stroke-width="0.16" >ms</text>
<line x1="321.50" y1="20.10" x2="335.50" y2="20.10" stroke="#666" stroke-width="0.7" />
<text font-size="6.2" text-anchor="middle" fill="#222" transform="matrix(1.0 0 0 1.12 328.00 19.60)" stroke="#222" stroke-width="0.16" >*</text>
<circle cx="320.90" cy="26.00" r="1.05" fill="#111"/>
<circle cx="322.79" cy="27.70" r="1.05" fill="#111"/>
<circle cx="320.90" cy="31.90" r="1.05" fill="#111"/>
<circle cx="322.79" cy="31.90" r="1.05" fill="#111"/>
<circle cx="319.01" cy="32.30" r="1.05" fill="#111"/>
<circle cx="324.68" cy="33.20" r="1.05" fill="#111"/>
<circle cx="320.90" cy="36.60" r="1.05" fill="#111"/>
<circle cx="322.79" cy="37.40" r="1.05" fill="#111"/>
<circle cx="319.01" cy="37.90" r="1.05" fill="#111"/>
<circle cx="320.90" cy="38.70" r="1.05" fill="#111"/>
<line x1="316.40" y1="33.40" x2="325.40" y2="33.40" stroke="#333" stroke-width="0.85" />
<line x1="320.90" y1="32.00" x2="320.90" y2="34.80" stroke="#333" stroke-width="0.85" />
<line x1="318.88" y1="32.00" x2="322.92" y2="32.00" stroke="#333" stroke-width="0.85" />
<line x1="318.88" y1="34.80" x2="322.92" y2="34.80" stroke="#333" stroke-width="0.85" />
<circle cx="334.80" cy="32.80" r="1.05" fill="#d23a3a"/>
<circle cx="336.69" cy="34.00" r="1.05" fill="#d23a3a"/>
<circle cx="334.80" cy="36.60" r="1.05" fill="#d23a3a"/>
<circle cx="336.69" cy="36.60" r="1.05" fill="#d23a3a"/>
<circle cx="332.91" cy="37.50" r="1.05" fill="#d23a3a"/>
<circle cx="334.80" cy="39.60" r="1.05" fill="#d23a3a"/>
<circle cx="334.80" cy="41.70" r="1.05" fill="#d23a3a"/>
<circle cx="336.69" cy="41.70" r="1.05" fill="#d23a3a"/>
<line x1="330.50" y1="37.00" x2="339.10" y2="37.00" stroke="#5a2a2a" stroke-width="0.85" />
<line x1="334.80" y1="35.80" x2="334.80" y2="38.20" stroke="#5a2a2a" stroke-width="0.85" />
<line x1="332.87" y1="35.80" x2="336.74" y2="35.80" stroke="#5a2a2a" stroke-width="0.85" />
<line x1="332.87" y1="38.20" x2="336.74" y2="38.20" stroke="#5a2a2a" stroke-width="0.85" />
<text font-size="5.74" font-weight="bold" transform="matrix(1.0 0 0 1.3 368.65 11.90)" stroke="#1a1a1a" stroke-width="0.14" >Rise Time</text>
<text font-size="5.8" fill="#222" textLength="19.80" lengthAdjust="spacingAndGlyphs" transform="matrix(1.0 0 0 1.12 376.20 19.00)" stroke="#222" stroke-width="0.16" ><tspan font-style="italic">P</tspan>=.065</text>
<line x1="376.00" y1="20.60" x2="389.70" y2="20.60" stroke="#444" stroke-width="0.6" />
<line x1="366.30" y1="20.40" x2="366.30" y2="69.70" stroke="#262626" stroke-width="0.95" />
<line x1="364.50" y1="20.40" x2="366.30" y2="20.40" stroke="#333" stroke-width="0.7" />
<text font-size="6.1" text-anchor="end" fill="#444" transform="matrix(1.0 0 0 1.2 365.00 22.45)" stroke="#444" stroke-width="0.16" >2.5</text>
<line x1="364.50" y1="36.80" x2="366.30" y2="36.80" stroke="#333" stroke-width="0.7" />
<text font-size="6.1" text-anchor="end" fill="#444" transform="matrix(1.0 0 0 1.2 365.00 38.85)" stroke="#444" stroke-width="0.16" >2.0</text>
<line x1="364.50" y1="52.90" x2="366.30" y2="52.90" stroke="#333" stroke-width="0.7" />
<text font-size="6.1" text-anchor="end" fill="#444" transform="matrix(1.0 0 0 1.2 365.00 54.95)" stroke="#444" stroke-width="0.16" >1.5</text>
<line x1="364.50" y1="69.30" x2="366.30" y2="69.30" stroke="#333" stroke-width="0.7" />
<text font-size="6.1" text-anchor="end" fill="#444" transform="matrix(1.0 0 0 1.2 365.00 71.35)" stroke="#444" stroke-width="0.16" >1.0</text>
<line x1="366.30" y1="69.70" x2="400.00" y2="69.70" stroke="#262626" stroke-width="0.95" />
<line x1="375.60" y1="69.70" x2="375.60" y2="71.30" stroke="#333" stroke-width="0.7" />
<line x1="389.60" y1="69.70" x2="389.60" y2="71.30" stroke="#333" stroke-width="0.7" />
<text font-size="6.0" text-anchor="middle" fill="#222" transform="matrix(1.0 0 0 1.25 375.60 76.90)" stroke="#222" stroke-width="0.16" >T1</text>
<text font-size="6.0" text-anchor="middle" fill="#222" transform="matrix(1.0 0 0 1.25 389.60 76.90)" stroke="#222" stroke-width="0.16" >T2</text>
<text font-size="5.8" text-anchor="middle" fill="#6a6a6a" transform="matrix(0 -1.0 1.25 0 353.00 42.20)" stroke="#6a6a6a" stroke-width="0.16" >ms</text>
<circle cx="375.80" cy="34.60" r="1.05" fill="#111"/>
<circle cx="375.80" cy="38.70" r="1.05" fill="#111"/>
<circle cx="375.80" cy="41.60" r="1.05" fill="#111"/>
<circle cx="375.80" cy="44.50" r="1.05" fill="#111"/>
<circle cx="377.69" cy="46.20" r="1.05" fill="#111"/>
<circle cx="375.80" cy="49.10" r="1.05" fill="#111"/>
<circle cx="375.80" cy="51.40" r="1.05" fill="#111"/>
<circle cx="375.80" cy="54.30" r="1.05" fill="#111"/>
<circle cx="375.80" cy="56.60" r="1.05" fill="#111"/>
<circle cx="375.80" cy="59.50" r="1.05" fill="#111"/>
<line x1="371.20" y1="47.60" x2="380.40" y2="47.60" stroke="#333" stroke-width="0.85" />
<line x1="375.80" y1="45.60" x2="375.80" y2="49.60" stroke="#333" stroke-width="0.85" />
<line x1="373.73" y1="45.60" x2="377.87" y2="45.60" stroke="#333" stroke-width="0.85" />
<line x1="373.73" y1="49.60" x2="377.87" y2="49.60" stroke="#333" stroke-width="0.85" />
<circle cx="389.50" cy="46.80" r="1.05" fill="#d23a3a"/>
<circle cx="391.39" cy="47.90" r="1.05" fill="#d23a3a"/>
<circle cx="389.50" cy="52.50" r="1.05" fill="#d23a3a"/>
<circle cx="391.39" cy="53.50" r="1.05" fill="#d23a3a"/>
<circle cx="387.61" cy="54.30" r="1.05" fill="#d23a3a"/>
<circle cx="389.50" cy="55.50" r="1.05" fill="#d23a3a"/>
<circle cx="391.39" cy="56.60" r="1.05" fill="#d23a3a"/>
<circle cx="389.50" cy="60.10" r="1.05" fill="#d23a3a"/>
<line x1="385.50" y1="54.90" x2="393.50" y2="54.90" stroke="#5a2a2a" stroke-width="0.85" />
<line x1="389.50" y1="53.20" x2="389.50" y2="56.60" stroke="#5a2a2a" stroke-width="0.85" />
<line x1="387.70" y1="53.20" x2="391.30" y2="53.20" stroke="#5a2a2a" stroke-width="0.85" />
<line x1="387.70" y1="56.60" x2="391.30" y2="56.60" stroke="#5a2a2a" stroke-width="0.85" />
<text font-size="6.1" font-weight="bold" transform="matrix(1.0 0 0 1.12 1.00 112.20)" stroke="#1a1a1a" stroke-width="0.14" >C</text>
<line x1="33.40" y1="116.50" x2="33.40" y2="174.20" stroke="#262626" stroke-width="0.95" />
<line x1="29.40" y1="116.50" x2="33.40" y2="116.50" stroke="#333" stroke-width="0.7" />
<text font-size="5.8" text-anchor="end" fill="#444" transform="matrix(1.0 0 0 1.2 28.40 118.55)" stroke="#444" stroke-width="0.16" >1.0</text>
<line x1="29.40" y1="127.70" x2="33.40" y2="127.70" stroke="#333" stroke-width="0.7" />
<text font-size="5.8" text-anchor="end" fill="#444" transform="matrix(1.0 0 0 1.2 28.40 129.75)" stroke="#444" stroke-width="0.16" >0.8</text>
<line x1="29.40" y1="138.90" x2="33.40" y2="138.90" stroke="#333" stroke-width="0.7" />
<text font-size="5.8" text-anchor="end" fill="#444" transform="matrix(1.0 0 0 1.2 28.40 140.95)" stroke="#444" stroke-width="0.16" >0.6</text>
<line x1="29.40" y1="150.20" x2="33.40" y2="150.20" stroke="#333" stroke-width="0.7" />
<text font-size="5.8" text-anchor="end" fill="#444" transform="matrix(1.0 0 0 1.2 28.40 152.25)" stroke="#444" stroke-width="0.16" >0.4</text>
<line x1="29.40" y1="161.40" x2="33.40" y2="161.40" stroke="#333" stroke-width="0.7" />
<text font-size="5.8" text-anchor="end" fill="#444" transform="matrix(1.0 0 0 1.2 28.40 163.45)" stroke="#444" stroke-width="0.16" >0.2</text>
<line x1="29.40" y1="172.60" x2="33.40" y2="172.60" stroke="#333" stroke-width="0.7" />
<text font-size="5.8" text-anchor="end" fill="#444" transform="matrix(1.0 0 0 1.2 28.40 174.65)" stroke="#444" stroke-width="0.16" >0.0</text>
<line x1="33.40" y1="174.20" x2="155.20" y2="174.20" stroke="#262626" stroke-width="0.95" />
<line x1="37.00" y1="174.20" x2="37.00" y2="176.60" stroke="#262626" stroke-width="0.9" />
<line x1="53.86" y1="174.20" x2="53.86" y2="176.60" stroke="#262626" stroke-width="0.9" />
<line x1="70.71" y1="174.20" x2="70.71" y2="176.60" stroke="#262626" stroke-width="0.9" />
<line x1="87.56" y1="174.20" x2="87.56" y2="176.60" stroke="#262626" stroke-width="0.9" />
<line x1="104.42" y1="174.20" x2="104.42" y2="176.60" stroke="#262626" stroke-width="0.9" />
<line x1="121.28" y1="174.20" x2="121.28" y2="176.60" stroke="#262626" stroke-width="0.9" />
<line x1="138.13" y1="174.20" x2="138.13" y2="176.60" stroke="#262626" stroke-width="0.9" />
<line x1="154.99" y1="174.20" x2="154.99" y2="176.60" stroke="#262626" stroke-width="0.9" />
<text font-size="6.0" text-anchor="middle" fill="#333" transform="matrix(1.0 0 0 1.2 53.86 185.80)" stroke="#333" stroke-width="0.16" >10</text>
<text font-size="6.0" text-anchor="middle" fill="#333" transform="matrix(1.0 0 0 1.2 87.56 185.80)" stroke="#333" stroke-width="0.16" >20</text>
<text font-size="6.0" text-anchor="middle" fill="#333" transform="matrix(1.0 0 0 1.2 121.28 185.80)" stroke="#333" stroke-width="0.16" >30</text>
<text font-size="6.0" text-anchor="middle" fill="#333" transform="matrix(1.0 0 0 1.2 154.99 185.80)" stroke="#333" stroke-width="0.16" >40</text>
<text font-size="5.17" font-weight="bold" fill="#222" transform="matrix(1.0 0 0 1.3 65.75 194.40)" stroke="#222" stroke-width="0.14" >mEPSC Amplitude (pA)</text>
<text font-size="5.7" font-weight="bold" text-anchor="middle" fill="#222" textLength="57.00" lengthAdjust="spacingAndGlyphs" transform="matrix(0 -1.0 1.12 0 16.00 144.30)" stroke="#222" stroke-width="0.14" >Cumulative Probability</text>
<text font-size="6.0" font-weight="bold" textLength="6.30" lengthAdjust="spacingAndGlyphs" transform="matrix(1.0 0 0 1.12 54.00 127.00)" stroke="#1a1a1a" stroke-width="0.14" >T1</text>
<text font-size="6.0" font-weight="bold" fill="#b02838" textLength="6.30" lengthAdjust="spacingAndGlyphs" transform="matrix(1.0 0 0 1.12 72.10 143.40)" stroke="#b02838" stroke-width="0.14" >T2</text>
<text font-size="6.35" fill="#222" transform="matrix(1.0 0 0 1.3 108.85 153.60)" stroke="#222" stroke-width="0.16" >p= 0.010</text>
<path d="M37.00,172.90 C37.67,172.83 39.92,172.82 41.00,172.50 C42.08,172.18 42.75,171.78 43.50,171.00 C44.25,170.22 44.75,169.22 45.50,167.80 C46.25,166.38 46.80,164.88 48.00,162.50 C49.20,160.12 51.37,155.95 52.70,153.50 C54.03,151.05 54.92,149.47 56.00,147.80 C57.08,146.13 58.03,144.88 59.20,143.50 C60.37,142.12 61.65,140.75 63.00,139.50 C64.35,138.25 65.80,137.20 67.30,136.00 C68.80,134.80 70.10,133.63 72.00,132.30 C73.90,130.97 76.37,129.25 78.70,128.00 C81.03,126.75 83.28,125.75 86.00,124.80 C88.72,123.85 90.80,123.22 95.00,122.30 C99.20,121.38 106.20,120.05 111.20,119.30 C116.20,118.55 120.20,118.18 125.00,117.80 C129.80,117.42 135.08,117.20 140.00,117.00 C144.92,116.80 152.08,116.67 154.50,116.60" stroke="#dd4b4b" stroke-width="1.1" fill="none" />
<path d="M37.00,172.90 C37.75,172.75 40.50,172.40 41.50,172.00 C42.50,171.60 42.22,172.17 43.00,170.50 C43.78,168.83 45.12,164.98 46.20,162.00 C47.28,159.02 48.53,155.18 49.50,152.60 C50.47,150.02 51.18,148.18 52.00,146.50 C52.82,144.82 53.57,143.87 54.40,142.50 C55.23,141.13 56.20,139.47 57.00,138.30 C57.80,137.13 58.37,136.50 59.20,135.50 C60.03,134.50 61.18,133.05 62.00,132.30 C62.82,131.55 63.10,131.62 64.10,131.00 C65.10,130.38 66.65,129.43 68.00,128.60 C69.35,127.77 69.87,127.10 72.20,126.00 C74.53,124.90 78.20,123.07 82.00,122.00 C85.80,120.93 90.13,120.27 95.00,119.60 C99.87,118.93 105.37,118.43 111.20,118.00 C117.03,117.57 122.78,117.23 130.00,117.00 C137.22,116.77 150.42,116.67 154.50,116.60" stroke="#2e2e2e" stroke-width="1.1" fill="none" />
<text font-size="6.1" font-weight="bold" transform="matrix(1.0 0 0 1.12 1.00 205.70)" stroke="#1a1a1a" stroke-width="0.14" >D</text>
<text font-size="6.0" font-weight="bold" fill="#a82636" textLength="6.50" lengthAdjust="spacingAndGlyphs" transform="matrix(1.0 0 0 1.12 38.60 212.10)" stroke="#a82636" stroke-width="0.14" >T2</text>
<line x1="36.00" y1="214.30" x2="36.00" y2="271.40" stroke="#262626" stroke-width="0.95" />
<line x1="31.40" y1="214.30" x2="36.00" y2="214.30" stroke="#333" stroke-width="0.7" />
<text font-size="5.8" text-anchor="end" fill="#444" transform="matrix(1.0 0 0 1.2 30.20 216.35)" stroke="#444" stroke-width="0.16" >1.0</text>
<line x1="31.40" y1="225.70" x2="36.00" y2="225.70" stroke="#333" stroke-width="0.7" />
<text font-size="5.8" text-anchor="end" fill="#444" transform="matrix(1.0 0 0 1.2 30.20 227.75)" stroke="#444" stroke-width="0.16" >0.8</text>
<line x1="31.40" y1="237.10" x2="36.00" y2="237.10" stroke="#333" stroke-width="0.7" />
<text font-size="5.8" text-anchor="end" fill="#444" transform="matrix(1.0 0 0 1.2 30.20 239.15)" stroke="#444" stroke-width="0.16" >0.6</text>
<line x1="31.40" y1="248.50" x2="36.00" y2="248.50" stroke="#333" stroke-width="0.7" />
<text font-size="5.8" text-anchor="end" fill="#444" transform="matrix(1.0 0 0 1.2 30.20 250.55)" stroke="#444" stroke-width="0.16" >0.4</text>
<line x1="31.40" y1="259.90" x2="36.00" y2="259.90" stroke="#333" stroke-width="0.7" />
<text font-size="5.8" text-anchor="end" fill="#444" transform="matrix(1.0 0 0 1.2 30.20 261.95)" stroke="#444" stroke-width="0.16" >0.2</text>
<line x1="31.40" y1="271.30" x2="36.00" y2="271.30" stroke="#333" stroke-width="0.7" />
<text font-size="5.8" text-anchor="end" fill="#444" transform="matrix(1.0 0 0 1.2 30.20 273.35)" stroke="#444" stroke-width="0.16" >0.0</text>
<line x1="38.00" y1="272.70" x2="160.00" y2="272.70" stroke="#262626" stroke-width="0.95" />
<line x1="41.40" y1="272.70" x2="41.40" y2="275.60" stroke="#262626" stroke-width="0.9" />
<text font-size="6.0" text-anchor="middle" fill="#333" transform="matrix(1.0 0 0 1.2 41.40 284.00)" stroke="#333" stroke-width="0.16" >0</text>
<line x1="64.90" y1="272.70" x2="64.90" y2="275.60" stroke="#262626" stroke-width="0.9" />
<text font-size="6.0" text-anchor="middle" fill="#333" transform="matrix(1.0 0 0 1.2 64.90 284.00)" stroke="#333" stroke-width="0.16" >20</text>
<line x1="88.40" y1="272.70" x2="88.40" y2="275.60" stroke="#262626" stroke-width="0.9" />
<text font-size="6.0" text-anchor="middle" fill="#333" transform="matrix(1.0 0 0 1.2 88.40 284.00)" stroke="#333" stroke-width="0.16" >40</text>
<line x1="111.90" y1="272.70" x2="111.90" y2="275.60" stroke="#262626" stroke-width="0.9" />
<text font-size="6.0" text-anchor="middle" fill="#333" transform="matrix(1.0 0 0 1.2 111.90 284.00)" stroke="#333" stroke-width="0.16" >60</text>
<line x1="135.40" y1="272.70" x2="135.40" y2="275.60" stroke="#262626" stroke-width="0.9" />
<text font-size="6.0" text-anchor="middle" fill="#333" transform="matrix(1.0 0 0 1.2 135.40 284.00)" stroke="#333" stroke-width="0.16" >80</text>
<line x1="158.90" y1="272.70" x2="158.90" y2="275.60" stroke="#262626" stroke-width="0.9" />
<text font-size="6.0" text-anchor="middle" fill="#333" transform="matrix(1.0 0 0 1.2 158.90 284.00)" stroke="#333" stroke-width="0.16" >100</text>
<text font-size="5.2" font-weight="bold" fill="#222" transform="matrix(1.0 0 0 1.3 82.55 292.60)" stroke="#222" stroke-width="0.14" >mEPSC IEI (s)</text>
<text font-size="5.7" font-weight="bold" text-anchor="middle" fill="#222" textLength="57.00" lengthAdjust="spacingAndGlyphs" transform="matrix(0 -1.0 1.12 0 18.10 242.60)" stroke="#222" stroke-width="0.14" >Cumulative Probability</text>
<text font-size="6.0" font-weight="bold" textLength="6.00" lengthAdjust="spacingAndGlyphs" transform="matrix(1.0 0 0 1.12 62.30 234.30)" stroke="#1a1a1a" stroke-width="0.14" >T1</text>
<text font-size="6.38" fill="#222" transform="matrix(1.0 0 0 1.3 109.75 251.00)" stroke="#222" stroke-width="0.16" >p= 0.027</text>
<path d="M41.40,268.30 L41.80,262.00 L41.92,255.24 L42.61,248.82 L43.48,242.55 L44.65,237.80 L46.04,234.07 L47.44,231.09 L49.34,228.18 L51.73,225.26 L54.63,223.05 L57.54,221.18 L63.53,218.27 L68.60,217.11 L74.22,216.23 L85.01,215.32 L97.40,215.10 L109.68,214.87 L130.00,214.80 L159.50,214.30 L159.50,214.30 L130.00,214.80 L110.22,215.93 L98.50,217.30 L86.89,219.08 L76.68,221.17 L71.30,222.49 L66.37,223.93 L60.36,226.82 L57.27,228.35 L54.17,230.14 L51.56,232.62 L49.46,235.11 L47.86,237.73 L46.25,241.00 L44.82,245.25 L43.69,250.98 L42.58,256.56 L41.80,262.00 L41.40,268.30 Z" fill="#bdbdbd" stroke="#b5b5b5" stroke-width="0.6" stroke-linejoin="round"/>
<path d="M41.40,268.30 C41.47,267.25 41.65,264.05 41.80,262.00 C41.95,259.95 42.07,258.00 42.30,256.00 C42.53,254.00 42.88,252.00 43.20,250.00 C43.52,248.00 43.82,245.75 44.20,244.00 C44.58,242.25 45.03,240.83 45.50,239.50 C45.97,238.17 46.50,237.05 47.00,236.00 C47.50,234.95 47.92,234.12 48.50,233.20 C49.08,232.28 49.75,231.40 50.50,230.50 C51.25,229.60 52.08,228.58 53.00,227.80 C53.92,227.02 55.00,226.42 56.00,225.80 C57.00,225.18 57.50,224.87 59.00,224.10 C60.50,223.33 63.17,221.90 65.00,221.20 C66.83,220.50 68.25,220.30 70.00,219.90 C71.75,219.50 72.83,219.23 75.50,218.80 C78.17,218.37 82.25,217.72 86.00,217.30 C89.75,216.88 94.00,216.60 98.00,216.30 C102.00,216.00 104.67,215.75 110.00,215.50 C115.33,215.25 121.75,215.00 130.00,214.80 C138.25,214.60 154.58,214.38 159.50,214.30" stroke="#2a2a2a" stroke-width="1.0" fill="none" />
<path d="M42.10,254.00 C42.13,251.33 42.20,242.33 42.30,238.00 C42.40,233.67 42.50,230.67 42.70,228.00 C42.90,225.33 43.12,223.63 43.50,222.00 C43.88,220.37 44.42,219.22 45.00,218.20 C45.58,217.18 46.25,216.45 47.00,215.90 C47.75,215.35 48.50,215.13 49.50,214.90 C50.50,214.67 51.25,214.58 53.00,214.50 C54.75,214.42 42.25,214.43 60.00,214.40 C77.75,214.37 142.92,214.32 159.50,214.30" stroke="#e06060" stroke-width="0.9" fill="none" />
<text font-size="6.5" font-weight="bold" transform="matrix(1.0 0 0 1.12 204.80 112.10)" stroke="#1a1a1a" stroke-width="0.14" >E</text>
<text font-size="5.77" font-weight="bold" transform="matrix(1.0 0 0 1.3 221.55 122.20)" stroke="#1a1a1a" stroke-width="0.14" >Input Resistance</text>
<line x1="226.00" y1="130.40" x2="226.00" y2="182.20" stroke="#262626" stroke-width="0.95" />
<line x1="224.40" y1="130.40" x2="226.00" y2="130.40" stroke="#333" stroke-width="0.7" />
<text font-size="6.3" text-anchor="end" fill="#444" transform="matrix(1.0 0 0 1.2 223.10 132.45)" stroke="#444" stroke-width="0.16" >250</text>
<line x1="224.40" y1="140.60" x2="226.00" y2="140.60" stroke="#333" stroke-width="0.7" />
<text font-size="6.3" text-anchor="end" fill="#444" transform="matrix(1.0 0 0 1.2 223.10 142.65)" stroke="#444" stroke-width="0.16" >200</text>
<line x1="224.40" y1="150.80" x2="226.00" y2="150.80" stroke="#333" stroke-width="0.7" />
<text font-size="6.3" text-anchor="end" fill="#444" transform="matrix(1.0 0 0 1.2 223.10 152.85)" stroke="#444" stroke-width="0.16" >150</text>
<line x1="224.40" y1="161.00" x2="226.00" y2="161.00" stroke="#333" stroke-width="0.7" />
<text font-size="6.3" text-anchor="end" fill="#444" transform="matrix(1.0 0 0 1.2 223.10 163.05)" stroke="#444" stroke-width="0.16" >100</text>
<line x1="224.40" y1="171.20" x2="226.00" y2="171.20" stroke="#333" stroke-width="0.7" />
<text font-size="6.3" text-anchor="end" fill="#444" transform="matrix(1.0 0 0 1.2 223.10 173.25)" stroke="#444" stroke-width="0.16" >50</text>
<line x1="224.40" y1="181.40" x2="226.00" y2="181.40" stroke="#333" stroke-width="0.7" />
<text font-size="6.3" text-anchor="end" fill="#444" transform="matrix(1.0 0 0 1.2 223.10 183.45)" stroke="#444" stroke-width="0.16" >0</text>
<line x1="225.70" y1="182.20" x2="260.10" y2="182.20" stroke="#262626" stroke-width="0.95" />
<line x1="236.40" y1="182.20" x2="236.40" y2="183.80" stroke="#333" stroke-width="0.7" />
<line x1="250.40" y1="182.20" x2="250.40" y2="183.80" stroke="#333" stroke-width="0.7" />
<text font-size="6.0" text-anchor="middle" fill="#222" transform="matrix(1.0 0 0 1.25 236.40 190.60)" stroke="#222" stroke-width="0.16" >T1</text>
<text font-size="6.0" text-anchor="middle" fill="#222" transform="matrix(1.0 0 0 1.25 250.40 190.60)" stroke="#222" stroke-width="0.16" >T2</text>
<text font-size="6.3" text-anchor="middle" fill="#222" transform="matrix(0 -1.0 1.15 0 211.30 151.40)" stroke="#222" stroke-width="0.16" >MΩ</text>
<text font-size="6.0" text-anchor="middle" fill="#666" transform="matrix(1.0 0 0 1.15 246.00 135.60)" stroke="#666" stroke-width="0.16" >ns</text>
<circle cx="236.40" cy="136.80" r="1.4" fill="#111"/>
<circle cx="236.40" cy="143.60" r="1.4" fill="#111"/>
<circle cx="236.40" cy="150.40" r="1.4" fill="#111"/>
<circle cx="238.92" cy="151.50" r="1.4" fill="#111"/>
<circle cx="233.88" cy="152.50" r="1.4" fill="#111"/>
<circle cx="236.40" cy="153.50" r="1.4" fill="#111"/>
<circle cx="238.92" cy="155.20" r="1.4" fill="#111"/>
<circle cx="236.40" cy="160.60" r="1.4" fill="#111"/>
<line x1="231.50" y1="152.40" x2="241.30" y2="152.40" stroke="#333" stroke-width="0.9" />
<line x1="236.40" y1="148.40" x2="236.40" y2="155.90" stroke="#333" stroke-width="0.9" />
<line x1="234.19" y1="148.40" x2="238.61" y2="148.40" stroke="#333" stroke-width="0.9" />
<line x1="234.19" y1="155.90" x2="238.61" y2="155.90" stroke="#333" stroke-width="0.9" />
<circle cx="250.40" cy="142.20" r="1.4" fill="#d23a3a"/>
<circle cx="250.40" cy="147.70" r="1.4" fill="#d23a3a"/>
<circle cx="252.92" cy="149.70" r="1.4" fill="#d23a3a"/>
<circle cx="250.40" cy="150.40" r="1.4" fill="#d23a3a"/>
<circle cx="250.40" cy="153.80" r="1.4" fill="#d23a3a"/>
<circle cx="250.40" cy="158.60" r="1.4" fill="#d23a3a"/>
<circle cx="252.92" cy="160.00" r="1.4" fill="#d23a3a"/>
<circle cx="250.40" cy="162.70" r="1.4" fill="#d23a3a"/>
<line x1="245.50" y1="153.10" x2="255.30" y2="153.10" stroke="#3a1a1a" stroke-width="0.9" />
<line x1="250.40" y1="149.00" x2="250.40" y2="155.90" stroke="#3a1a1a" stroke-width="0.9" />
<line x1="248.19" y1="149.00" x2="252.61" y2="149.00" stroke="#3a1a1a" stroke-width="0.9" />
<line x1="248.19" y1="155.90" x2="252.61" y2="155.90" stroke="#3a1a1a" stroke-width="0.9" />
<text font-size="5.69" font-weight="bold" transform="matrix(1.0 0 0 1.3 288.95 122.20)" stroke="#1a1a1a" stroke-width="0.14" >Capacitance</text>
<line x1="286.00" y1="130.00" x2="286.00" y2="182.00" stroke="#262626" stroke-width="0.95" />
<line x1="284.40" y1="130.00" x2="286.00" y2="130.00" stroke="#333" stroke-width="0.7" />
<text font-size="6.3" text-anchor="end" fill="#444" transform="matrix(1.0 0 0 1.2 283.10 132.05)" stroke="#444" stroke-width="0.16" >250</text>
<line x1="284.40" y1="140.20" x2="286.00" y2="140.20" stroke="#333" stroke-width="0.7" />
<text font-size="6.3" text-anchor="end" fill="#444" transform="matrix(1.0 0 0 1.2 283.10 142.25)" stroke="#444" stroke-width="0.16" >200</text>
<line x1="284.40" y1="150.60" x2="286.00" y2="150.60" stroke="#333" stroke-width="0.7" />
<text font-size="6.3" text-anchor="end" fill="#444" transform="matrix(1.0 0 0 1.2 283.10 152.65)" stroke="#444" stroke-width="0.16" >150</text>
<line x1="284.40" y1="160.90" x2="286.00" y2="160.90" stroke="#333" stroke-width="0.7" />
<text font-size="6.3" text-anchor="end" fill="#444" transform="matrix(1.0 0 0 1.2 283.10 162.95)" stroke="#444" stroke-width="0.16" >100</text>
<line x1="284.40" y1="171.20" x2="286.00" y2="171.20" stroke="#333" stroke-width="0.7" />
<text font-size="6.3" text-anchor="end" fill="#444" transform="matrix(1.0 0 0 1.2 283.10 173.25)" stroke="#444" stroke-width="0.16" >50</text>
<line x1="284.40" y1="181.50" x2="286.00" y2="181.50" stroke="#333" stroke-width="0.7" />
<text font-size="6.3" text-anchor="end" fill="#444" transform="matrix(1.0 0 0 1.2 283.10 183.55)" stroke="#444" stroke-width="0.16" >0</text>
<line x1="285.70" y1="182.00" x2="320.00" y2="182.00" stroke="#262626" stroke-width="0.95" />
<line x1="296.40" y1="182.00" x2="296.40" y2="183.60" stroke="#333" stroke-width="0.7" />
<line x1="310.60" y1="182.00" x2="310.60" y2="183.60" stroke="#333" stroke-width="0.7" />
<text font-size="6.0" text-anchor="middle" fill="#222" transform="matrix(1.0 0 0 1.25 296.40 190.60)" stroke="#222" stroke-width="0.16" >T1</text>
<text font-size="6.0" text-anchor="middle" fill="#222" transform="matrix(1.0 0 0 1.25 310.60 190.60)" stroke="#222" stroke-width="0.16" >T2</text>
<text font-size="6.3" text-anchor="middle" fill="#222" transform="matrix(0 -1.0 1.15 0 270.00 151.00)" stroke="#222" stroke-width="0.16" >pF</text>
<text font-size="6.0" text-anchor="middle" fill="#666" transform="matrix(1.0 0 0 1.15 307.00 135.60)" stroke="#666" stroke-width="0.16" >ns</text>
<circle cx="296.40" cy="141.10" r="1.4" fill="#111"/>
<circle cx="296.40" cy="147.00" r="1.4" fill="#111"/>
<circle cx="298.92" cy="148.60" r="1.4" fill="#111"/>
<circle cx="293.88" cy="148.60" r="1.4" fill="#111"/>
<circle cx="296.40" cy="150.60" r="1.4" fill="#111"/>
<circle cx="296.40" cy="154.70" r="1.4" fill="#111"/>
<circle cx="296.40" cy="158.10" r="1.4" fill="#111"/>
<circle cx="296.40" cy="164.30" r="1.4" fill="#111"/>
<circle cx="296.40" cy="168.30" r="1.4" fill="#111"/>
<line x1="291.50" y1="153.40" x2="301.30" y2="153.40" stroke="#333" stroke-width="0.9" />
<line x1="296.40" y1="150.00" x2="296.40" y2="156.80" stroke="#333" stroke-width="0.9" />
<line x1="294.19" y1="150.00" x2="298.60" y2="150.00" stroke="#333" stroke-width="0.9" />
<line x1="294.19" y1="156.80" x2="298.60" y2="156.80" stroke="#333" stroke-width="0.9" />
<circle cx="310.60" cy="148.60" r="1.4" fill="#d23a3a"/>
<circle cx="313.12" cy="149.30" r="1.4" fill="#d23a3a"/>
<circle cx="310.60" cy="152.00" r="1.4" fill="#d23a3a"/>
<circle cx="313.12" cy="152.70" r="1.4" fill="#d23a3a"/>
<circle cx="308.08" cy="153.40" r="1.4" fill="#d23a3a"/>
<circle cx="310.60" cy="155.40" r="1.4" fill="#d23a3a"/>
<circle cx="310.60" cy="160.20" r="1.4" fill="#d23a3a"/>
<circle cx="310.60" cy="164.90" r="1.4" fill="#d23a3a"/>
<line x1="305.70" y1="153.40" x2="315.50" y2="153.40" stroke="#3a1a1a" stroke-width="0.9" />
<line x1="310.60" y1="151.00" x2="310.60" y2="155.80" stroke="#3a1a1a" stroke-width="0.9" />
<line x1="308.40" y1="151.00" x2="312.81" y2="151.00" stroke="#3a1a1a" stroke-width="0.9" />
<line x1="308.40" y1="155.80" x2="312.81" y2="155.80" stroke="#3a1a1a" stroke-width="0.9" />
<text font-size="5.76" font-weight="bold" transform="matrix(1.0 0 0 1.3 342.85 122.20)" stroke="#1a1a1a" stroke-width="0.14" >Holding current</text>
<line x1="344.40" y1="129.90" x2="344.40" y2="181.80" stroke="#262626" stroke-width="0.95" />
<line x1="342.80" y1="129.90" x2="344.40" y2="129.90" stroke="#333" stroke-width="0.7" />
<text font-size="6.3" text-anchor="end" fill="#444" transform="matrix(1.0 0 0 1.2 341.50 131.95)" stroke="#444" stroke-width="0.16" >50</text>
<line x1="342.80" y1="147.20" x2="344.40" y2="147.20" stroke="#333" stroke-width="0.7" />
<text font-size="6.3" text-anchor="end" fill="#444" transform="matrix(1.0 0 0 1.2 341.50 149.25)" stroke="#444" stroke-width="0.16" >0</text>
<line x1="342.80" y1="164.50" x2="344.40" y2="164.50" stroke="#333" stroke-width="0.7" />
<text font-size="6.3" text-anchor="end" fill="#444" transform="matrix(1.0 0 0 1.2 341.50 166.55)" stroke="#444" stroke-width="0.16" >-50</text>
<line x1="342.80" y1="181.80" x2="344.40" y2="181.80" stroke="#333" stroke-width="0.7" />
<text font-size="6.3" text-anchor="end" fill="#444" transform="matrix(1.0 0 0 1.2 341.50 183.85)" stroke="#444" stroke-width="0.16" >-100</text>
<line x1="344.10" y1="181.80" x2="380.00" y2="181.80" stroke="#262626" stroke-width="0.95" />
<line x1="354.50" y1="181.80" x2="354.50" y2="183.40" stroke="#333" stroke-width="0.7" />
<line x1="368.80" y1="181.80" x2="368.80" y2="183.40" stroke="#333" stroke-width="0.7" />
<text font-size="6.0" text-anchor="middle" fill="#222" transform="matrix(1.0 0 0 1.25 354.50 190.60)" stroke="#222" stroke-width="0.16" >T1</text>
<text font-size="6.0" text-anchor="middle" fill="#222" transform="matrix(1.0 0 0 1.25 368.80 190.60)" stroke="#222" stroke-width="0.16" >T2</text>
<text font-size="6.3" text-anchor="middle" fill="#222" transform="matrix(0 -1.0 1.15 0 330.50 152.80)" stroke="#222" stroke-width="0.16" >pA</text>
<text font-size="6.0" text-anchor="middle" fill="#666" transform="matrix(1.0 0 0 1.15 363.30 135.60)" stroke="#666" stroke-width="0.16" >ns</text>
<circle cx="354.50" cy="143.60" r="1.4" fill="#111"/>
<circle cx="354.50" cy="148.40" r="1.4" fill="#111"/>
<circle cx="357.02" cy="148.40" r="1.4" fill="#111"/>
<circle cx="354.50" cy="153.00" r="1.4" fill="#111"/>
<circle cx="354.50" cy="156.40" r="1.4" fill="#111"/>
<circle cx="357.02" cy="157.20" r="1.4" fill="#111"/>
<circle cx="351.98" cy="157.20" r="1.4" fill="#111"/>
<circle cx="354.50" cy="166.60" r="1.4" fill="#111"/>
<circle cx="354.50" cy="171.30" r="1.4" fill="#111"/>
<line x1="349.60" y1="156.40" x2="359.40" y2="156.40" stroke="#333" stroke-width="0.9" />
<line x1="354.50" y1="152.50" x2="354.50" y2="160.30" stroke="#333" stroke-width="0.9" />
<line x1="352.30" y1="152.50" x2="356.70" y2="152.50" stroke="#333" stroke-width="0.9" />
<line x1="352.30" y1="160.30" x2="356.70" y2="160.30" stroke="#333" stroke-width="0.9" />
<circle cx="368.80" cy="137.70" r="1.4" fill="#d23a3a"/>
<circle cx="368.80" cy="142.20" r="1.4" fill="#d23a3a"/>
<circle cx="368.80" cy="151.30" r="1.4" fill="#d23a3a"/>
<circle cx="371.32" cy="151.30" r="1.4" fill="#d23a3a"/>
<circle cx="366.28" cy="153.00" r="1.4" fill="#d23a3a"/>
<circle cx="368.80" cy="154.50" r="1.4" fill="#d23a3a"/>
<circle cx="368.80" cy="173.40" r="1.4" fill="#d23a3a"/>
<line x1="363.90" y1="152.10" x2="373.70" y2="152.10" stroke="#3a1a1a" stroke-width="0.9" />
<line x1="368.80" y1="148.40" x2="368.80" y2="155.80" stroke="#3a1a1a" stroke-width="0.9" />
<line x1="366.60" y1="148.40" x2="371.00" y2="148.40" stroke="#3a1a1a" stroke-width="0.9" />
<line x1="366.60" y1="155.80" x2="371.00" y2="155.80" stroke="#3a1a1a" stroke-width="0.9" />
<text font-size="5.7" font-weight="bold" transform="matrix(1.0 0 0 1.3 249.05 217.60)" stroke="#1a1a1a" stroke-width="0.14" >Membrane noise</text>
<line x1="256.40" y1="224.90" x2="256.40" y2="277.90" stroke="#262626" stroke-width="0.95" />
<line x1="254.80" y1="224.90" x2="256.40" y2="224.90" stroke="#333" stroke-width="0.7" />
<text font-size="6.3" text-anchor="end" fill="#444" transform="matrix(1.0 0 0 1.2 253.50 226.95)" stroke="#444" stroke-width="0.16" >4.0</text>
<line x1="254.80" y1="238.40" x2="256.40" y2="238.40" stroke="#333" stroke-width="0.7" />
<text font-size="6.3" text-anchor="end" fill="#444" transform="matrix(1.0 0 0 1.2 253.50 240.45)" stroke="#444" stroke-width="0.16" >3.5</text>
<line x1="254.80" y1="251.60" x2="256.40" y2="251.60" stroke="#333" stroke-width="0.7" />
<text font-size="6.3" text-anchor="end" fill="#444" transform="matrix(1.0 0 0 1.2 253.50 253.65)" stroke="#444" stroke-width="0.16" >3.0</text>
<line x1="254.80" y1="264.80" x2="256.40" y2="264.80" stroke="#333" stroke-width="0.7" />
<text font-size="6.3" text-anchor="end" fill="#444" transform="matrix(1.0 0 0 1.2 253.50 266.85)" stroke="#444" stroke-width="0.16" >2.5</text>
<line x1="254.80" y1="277.90" x2="256.40" y2="277.90" stroke="#333" stroke-width="0.7" />
<text font-size="6.3" text-anchor="end" fill="#444" transform="matrix(1.0 0 0 1.2 253.50 279.95)" stroke="#444" stroke-width="0.16" >2.0</text>
<line x1="256.10" y1="277.90" x2="290.00" y2="277.90" stroke="#262626" stroke-width="0.95" />
<line x1="266.90" y1="277.90" x2="266.90" y2="279.50" stroke="#333" stroke-width="0.7" />
<line x1="282.00" y1="277.90" x2="282.00" y2="279.50" stroke="#333" stroke-width="0.7" />
<text font-size="6.0" text-anchor="middle" fill="#222" transform="matrix(1.0 0 0 1.25 266.90 287.70)" stroke="#222" stroke-width="0.16" >T1</text>
<text font-size="6.0" text-anchor="middle" fill="#222" transform="matrix(1.0 0 0 1.25 282.00 287.70)" stroke="#222" stroke-width="0.16" >T2</text>
<text font-size="6.3" text-anchor="middle" fill="#222" textLength="27.00" lengthAdjust="spacingAndGlyphs" transform="matrix(0 -1.0 1.15 0 241.20 247.40)" stroke="#222" stroke-width="0.16" >RMS (pA)</text>
<text font-size="6.0" text-anchor="middle" fill="#666" transform="matrix(1.0 0 0 1.15 276.00 231.40)" stroke="#666" stroke-width="0.16" >ns</text>
<circle cx="266.90" cy="240.20" r="1.4" fill="#111"/>
<circle cx="266.90" cy="248.10" r="1.4" fill="#111"/>
<circle cx="266.90" cy="252.10" r="1.4" fill="#111"/>
<circle cx="269.42" cy="253.50" r="1.4" fill="#111"/>
<circle cx="266.90" cy="256.80" r="1.4" fill="#111"/>
<circle cx="266.90" cy="259.90" r="1.4" fill="#111"/>
<circle cx="269.42" cy="261.30" r="1.4" fill="#111"/>
<circle cx="266.90" cy="264.00" r="1.4" fill="#111"/>
<circle cx="269.42" cy="265.30" r="1.4" fill="#111"/>
<line x1="262.00" y1="255.80" x2="271.80" y2="255.80" stroke="#333" stroke-width="0.9" />
<line x1="266.90" y1="252.80" x2="266.90" y2="258.80" stroke="#333" stroke-width="0.9" />
<line x1="264.69" y1="252.80" x2="269.10" y2="252.80" stroke="#333" stroke-width="0.9" />
<line x1="264.69" y1="258.80" x2="269.10" y2="258.80" stroke="#333" stroke-width="0.9" />
<circle cx="282.00" cy="240.20" r="1.4" fill="#d23a3a"/>
<circle cx="284.52" cy="240.80" r="1.4" fill="#d23a3a"/>
<circle cx="279.48" cy="242.20" r="1.4" fill="#d23a3a"/>
<circle cx="282.00" cy="252.40" r="1.4" fill="#d23a3a"/>
<circle cx="284.52" cy="254.40" r="1.4" fill="#d23a3a"/>
<circle cx="282.00" cy="260.60" r="1.4" fill="#d23a3a"/>
<circle cx="284.52" cy="261.70" r="1.4" fill="#d23a3a"/>
<line x1="277.10" y1="250.10" x2="286.90" y2="250.10" stroke="#3a1a1a" stroke-width="0.9" />
<line x1="282.00" y1="247.60" x2="282.00" y2="252.60" stroke="#3a1a1a" stroke-width="0.9" />
<line x1="279.80" y1="247.60" x2="284.20" y2="247.60" stroke="#3a1a1a" stroke-width="0.9" />
<line x1="279.80" y1="252.60" x2="284.20" y2="252.60" stroke="#3a1a1a" stroke-width="0.9" />
<text font-size="5.78" font-weight="bold" transform="matrix(1.0 0 0 1.3 306.25 217.20)" stroke="#1a1a1a" stroke-width="0.14" >Series Resistance</text>
<line x1="313.00" y1="226.10" x2="313.00" y2="278.00" stroke="#262626" stroke-width="0.95" />
<line x1="311.40" y1="226.10" x2="313.00" y2="226.10" stroke="#333" stroke-width="0.7" />
<text font-size="6.3" text-anchor="end" fill="#444" transform="matrix(1.0 0 0 1.2 310.10 228.15)" stroke="#444" stroke-width="0.16" >25</text>
<line x1="311.40" y1="236.60" x2="313.00" y2="236.60" stroke="#333" stroke-width="0.7" />
<text font-size="6.3" text-anchor="end" fill="#444" transform="matrix(1.0 0 0 1.2 310.10 238.65)" stroke="#444" stroke-width="0.16" >20</text>
<line x1="311.40" y1="247.00" x2="313.00" y2="247.00" stroke="#333" stroke-width="0.7" />
<text font-size="6.3" text-anchor="end" fill="#444" transform="matrix(1.0 0 0 1.2 310.10 249.05)" stroke="#444" stroke-width="0.16" >15</text>
<line x1="311.40" y1="257.20" x2="313.00" y2="257.20" stroke="#333" stroke-width="0.7" />
<text font-size="6.3" text-anchor="end" fill="#444" transform="matrix(1.0 0 0 1.2 310.10 259.25)" stroke="#444" stroke-width="0.16" >10</text>
<line x1="311.40" y1="267.60" x2="313.00" y2="267.60" stroke="#333" stroke-width="0.7" />
<text font-size="6.3" text-anchor="end" fill="#444" transform="matrix(1.0 0 0 1.2 310.10 269.65)" stroke="#444" stroke-width="0.16" >5</text>
<line x1="311.40" y1="277.60" x2="313.00" y2="277.60" stroke="#333" stroke-width="0.7" />
<text font-size="6.3" text-anchor="end" fill="#444" transform="matrix(1.0 0 0 1.2 310.10 279.65)" stroke="#444" stroke-width="0.16" >0</text>
<line x1="312.70" y1="278.00" x2="347.50" y2="278.00" stroke="#262626" stroke-width="0.95" />
<line x1="323.00" y1="278.00" x2="323.00" y2="279.60" stroke="#333" stroke-width="0.7" />
<line x1="337.50" y1="278.00" x2="337.50" y2="279.60" stroke="#333" stroke-width="0.7" />
<text font-size="6.0" text-anchor="middle" fill="#222" transform="matrix(1.0 0 0 1.25 323.00 287.50)" stroke="#222" stroke-width="0.16" >T1</text>
<text font-size="6.0" text-anchor="middle" fill="#222" transform="matrix(1.0 0 0 1.25 337.50 287.50)" stroke="#222" stroke-width="0.16" >T2</text>
<text font-size="6.3" text-anchor="middle" fill="#222" transform="matrix(0 -1.0 1.15 0 301.00 247.00)" stroke="#222" stroke-width="0.16" >MΩ</text>
<text font-size="6.0" text-anchor="middle" fill="#666" transform="matrix(1.0 0 0 1.15 332.50 231.40)" stroke="#666" stroke-width="0.16" >ns</text>
<circle cx="323.00" cy="238.60" r="1.4" fill="#111"/>
<circle cx="325.52" cy="238.90" r="1.4" fill="#111"/>
<circle cx="320.48" cy="239.60" r="1.4" fill="#111"/>
<circle cx="323.00" cy="241.10" r="1.4" fill="#111"/>
<circle cx="323.00" cy="247.30" r="1.4" fill="#111"/>
<circle cx="323.00" cy="251.90" r="1.4" fill="#111"/>
<circle cx="323.00" cy="255.40" r="1.4" fill="#111"/>
<circle cx="323.00" cy="259.00" r="1.4" fill="#111"/>
<circle cx="325.52" cy="259.00" r="1.4" fill="#111"/>
<line x1="318.10" y1="247.30" x2="327.90" y2="247.30" stroke="#333" stroke-width="0.9" />
<line x1="323.00" y1="244.70" x2="323.00" y2="250.00" stroke="#333" stroke-width="0.9" />
<line x1="320.80" y1="244.70" x2="325.20" y2="244.70" stroke="#333" stroke-width="0.9" />
<line x1="320.80" y1="250.00" x2="325.20" y2="250.00" stroke="#333" stroke-width="0.9" />
<circle cx="337.50" cy="244.90" r="1.4" fill="#d23a3a"/>
<circle cx="337.50" cy="250.10" r="1.4" fill="#d23a3a"/>
<circle cx="337.50" cy="253.80" r="1.4" fill="#d23a3a"/>
<circle cx="340.02" cy="255.10" r="1.4" fill="#d23a3a"/>
<circle cx="334.98" cy="255.10" r="1.4" fill="#d23a3a"/>
<circle cx="342.54" cy="256.00" r="1.4" fill="#d23a3a"/>
<circle cx="337.50" cy="257.80" r="1.4" fill="#d23a3a"/>
<line x1="332.60" y1="254.40" x2="342.40" y2="254.40" stroke="#3a1a1a" stroke-width="0.9" />
<line x1="337.50" y1="252.80" x2="337.50" y2="256.00" stroke="#3a1a1a" stroke-width="0.9" />
<line x1="335.30" y1="252.80" x2="339.70" y2="252.80" stroke="#3a1a1a" stroke-width="0.9" />
<line x1="335.30" y1="256.00" x2="339.70" y2="256.00" stroke="#3a1a1a" stroke-width="0.9" />
</svg>
</body></html>
